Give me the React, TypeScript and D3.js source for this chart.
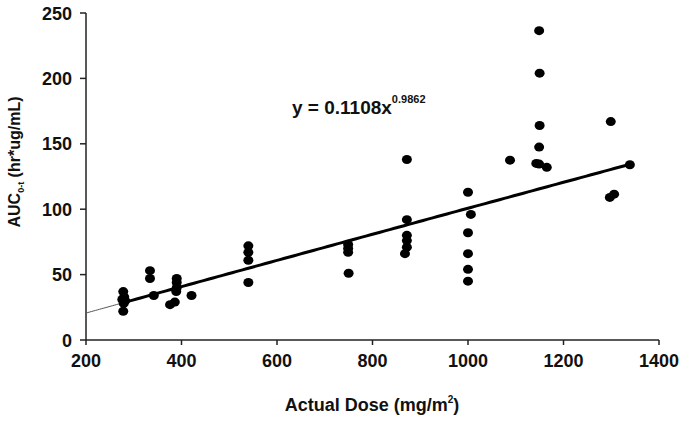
import React from "react";
import * as d3 from "d3";

const doses: number[] = [
  278, 280, 276, 282, 279, 278,
  334, 334, 342,
  376, 386, 390, 390, 390, 389, 421,
  540, 540, 540, 540,
  749, 749, 749, 750,
  872, 872, 872, 872, 872, 868,
  1000, 1006, 1000, 1000, 1000, 1000,
  1088,
  1149, 1150, 1150, 1149, 1143, 1149, 1165,
  1299, 1297, 1306, 1339,
];
const aucs: number[] = [
  37, 33, 31, 30, 28, 22,
  53, 47, 34,
  27, 29, 47, 44, 40, 37, 34,
  72, 67, 61, 44,
  73, 70, 67, 51,
  138, 92, 80, 76, 71, 66,
  113, 96, 82, 66, 54, 45,
  137.5,
  236.5, 204, 164, 147.5, 135, 134.5, 132,
  167, 109, 111.5, 134,
];
const xTicks: number[] = [200, 400, 600, 800, 1000, 1200, 1400];
const yTicks: number[] = [0, 50, 100, 150, 200, 250];
const fitCoef = 0.1108;
const fitExp = 0.9862;
const fitStart = 200;
const fitDataStart = 276;
const fitEnd = 1339;

const W = 687;
const H = 422;
const FONT = "'Liberation Sans', Arial, sans-serif";

export default function App() {
  const x = d3.scaleLinear().domain([200, 1400]).range([86, 659]);
  const y = d3.scaleLinear().domain([0, 250]).range([340, 13]);
  const fit = (d: number) => fitCoef * Math.pow(d, fitExp);
  const line = d3
    .line<number>()
    .x((d) => x(d))
    .y((d) => y(fit(d)));
  const thinPts = d3.range(fitStart, fitDataStart + 1, 4);
  const thickPts = d3.range(fitDataStart, fitEnd, 10).concat([fitEnd]);

  return (
    <svg
      width={W}
      height={H}
      style={{ position: "absolute", left: 0, top: 0, background: "#fff" }}
      fontFamily={FONT}
    >
      <rect x={0} y={0} width={W} height={H} fill="#fff" />
      {/* axes */}
      <line x1={x(200)} x2={x(1400)} y1={y(0)} y2={y(0)} stroke="#222" strokeWidth={1.5} />
      <line x1={x(200)} x2={x(200)} y1={y(0)} y2={y(250)} stroke="#222" strokeWidth={1.5} />
      {xTicks.map((t) => (
        <g key={"xt" + t}>
          <line x1={x(t)} x2={x(t)} y1={y(0)} y2={y(0) + 5} stroke="#222" strokeWidth={1.5} />
          <text x={x(t)} y={367} textAnchor="middle" fontSize={18} fontWeight="bold" fill="#111">
            {t}
          </text>
        </g>
      ))}
      {yTicks.map((t) => (
        <g key={"yt" + t}>
          <line x1={x(200) - 6} x2={x(200)} y1={y(t)} y2={y(t)} stroke="#222" strokeWidth={1.5} />
          <text x={72} y={y(t) + 6.5} textAnchor="end" fontSize={18} fontWeight="bold" fill="#111">
            {t}
          </text>
        </g>
      ))}
      {/* fit line */}
      <path d={line(thinPts) || ""} fill="none" stroke="#555" strokeWidth={1} />
      <path d={line(thickPts) || ""} fill="none" stroke="#000" strokeWidth={3} />
      {/* points */}
      {doses.map((d, i) => (
        <ellipse key={"p" + i} cx={x(d)} cy={y(aucs[i])} rx={5} ry={4.5} fill="#000" />
      ))}
      {/* equation */}
      <text x={292} y={114} fontSize={19} fontWeight="bold" fill="#111">
        y = 0.1108x
        <tspan dy={-11} fontSize={11}>0.9862</tspan>
      </text>
      {/* axis titles */}
      <text x={372} y={411} textAnchor="middle" fontSize={18} fontWeight="bold" fill="#111">
        Actual Dose (mg/m
        <tspan dy={-8} fontSize={10}>2</tspan>
        <tspan dy={8}>)</tspan>
      </text>
      <text
        transform={`translate(20,162) rotate(-90)`}
        textAnchor="middle"
        fontSize={16}
        fontWeight="bold"
        fill="#111"
      >
        AUC
        <tspan dy={4} fontSize={9}>0-t</tspan>
        <tspan dy={-4}> (hr*ug/mL)</tspan>
      </text>
    </svg>
  );
}
